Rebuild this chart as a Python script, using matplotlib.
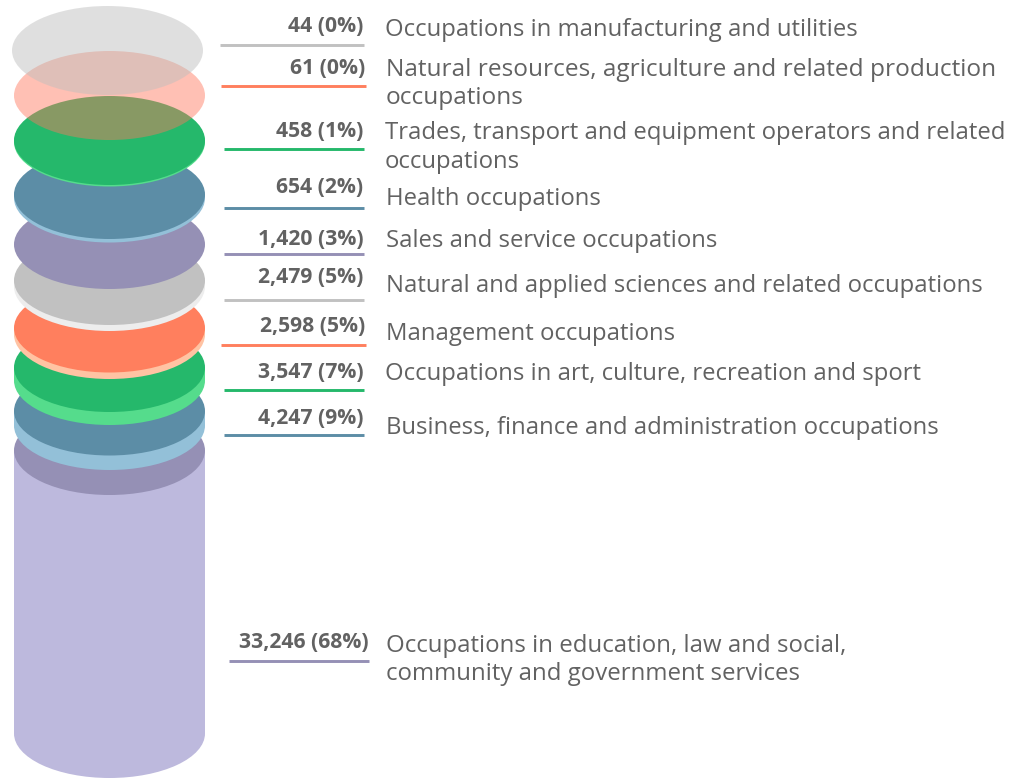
import matplotlib
matplotlib.use("Agg")
import matplotlib.pyplot as plt
from matplotlib.patches import Ellipse, Rectangle

plt.rcParams['font.family'] = ['Open Sans', 'DejaVu Sans']

# top of stack first
labels = ["Occupations in manufacturing and utilities",
          "Natural resources, agriculture and related production\noccupations",
          "Trades, transport and equipment operators and related\noccupations",
          "Health occupations",
          "Sales and service occupations",
          "Natural and applied sciences and related occupations",
          "Management occupations",
          "Occupations in art, culture, recreation and sport",
          "Business, finance and administration occupations",
          "Occupations in education, law and social,\ncommunity and government services"]
counts = [44, 61, 458, 654, 1420, 2479, 2598, 3547, 4247, 33246]
shares = [0, 0, 1, 2, 3, 5, 5, 7, 9, 68]

# drawing layout, in pixels of the 1024x778 picture
disk_x = [107.5, 109.5, 109.5, 109.5, 109.5, 109.5, 109.5, 109.5, 109.5, 109.5]
disk_y = [50.5, 95.5, 140.5, 194.5, 244.5, 280.5, 328, 367.5, 411, 450.5]
disk_h = [0, 0, 1.5, 3.5, 0, 6, 6.5, 13, 14.5, 283]
side_col = ["#e0e0e0", "#ffc0b4", "#55dc8c", "#93c0d8", "#b9b5d6", "#ededed", "#ffc3a3", "#55dc8c", "#93c0d8", "#bdb9dd"]
top_col = ["#bebebe", "#ff765c", "#25b86b", "#5c8da6", "#9590b5", "#c1c1c1", "#ff7f5e", "#25b86b", "#5c8da6", "#9590b5"]
top_alpha = [0.48, 0.46, 1, 1, 1, 1, 1, 1, 1, 1]
line_col = ["#c1c1c1", "#ff7f5e", "#25b86b", "#5c8da6", "#9590b5", "#c1c1c1", "#ff7f5e", "#25b86b", "#5c8da6", "#9590b5"]
line_x0 = [220, 221, 223.5, 223.5, 223.5, 223.5, 221, 223.5, 223.5, 229]
line_x1 = [364, 366, 364, 364, 364, 364, 366, 364, 364, 369]
line_y = [44.5, 86, 149, 207.5, 254, 300, 345, 390, 434.5, 661]
num_y = [26, 68, 131, 187, 239, 277, 326, 372, 418, 643]
text_x = [385, 386, 385, 386, 386, 386, 386, 385, 386, 386]
text_y = [30, 84, 147.5, 199, 241, 286, 334, 374, 428, 660]
text_size = [17.2, 17.6, 17.2, 17.2, 17.2, 17.2, 17.2, 17.2, 17.2, 17.25]
text_gap = [1.17, 1.2, 1.23, 1.17, 1.17, 1.17, 1.17, 1.17, 1.17, 1.17]

RX = 95.5
RY = 44.5
INK = "#626262"

fig = plt.figure(figsize=(10.24, 7.78), dpi=100)
ax = fig.add_axes([0, 0, 1, 1])
ax.set_xlim(0, 1024)
ax.set_ylim(778, 0)
ax.axis('off')

# bottom disk first so upper ones sit on top
for i in range(len(labels) - 1, -1, -1):
    x, y, h = disk_x[i], disk_y[i], disk_h[i]
    if h > 0:
        ax.add_patch(Ellipse((x, y + h), RX * 2, RY * 2, fc=side_col[i], ec='none'))
        ax.add_patch(Rectangle((x - RX, y), RX * 2, h, fc=side_col[i], ec='none'))
    if top_alpha[i] < 1:
        ax.add_patch(Ellipse((x, y), RX * 2, RY * 2, fc=top_col[i], ec='none', alpha=top_alpha[i]))
    else:
        ax.add_patch(Ellipse((x, y), RX * 2, RY * 2, fc=top_col[i], ec='none'))

for i in range(len(labels)):
    ax.plot([line_x0[i], line_x1[i]], [line_y[i], line_y[i]], color=line_col[i], lw=2.1, solid_capstyle='butt')
    ax.text(line_x1[i] - 0.5, num_y[i], f"{counts[i]:,} ({shares[i]}%)", ha='right', va='center',
            fontsize=15.2, fontweight='bold', color=INK)
    ax.text(text_x[i], text_y[i], labels[i], ha='left', va='center',
            fontsize=text_size[i], color=INK, linespacing=text_gap[i])

fig.savefig("out.png", dpi=100)
